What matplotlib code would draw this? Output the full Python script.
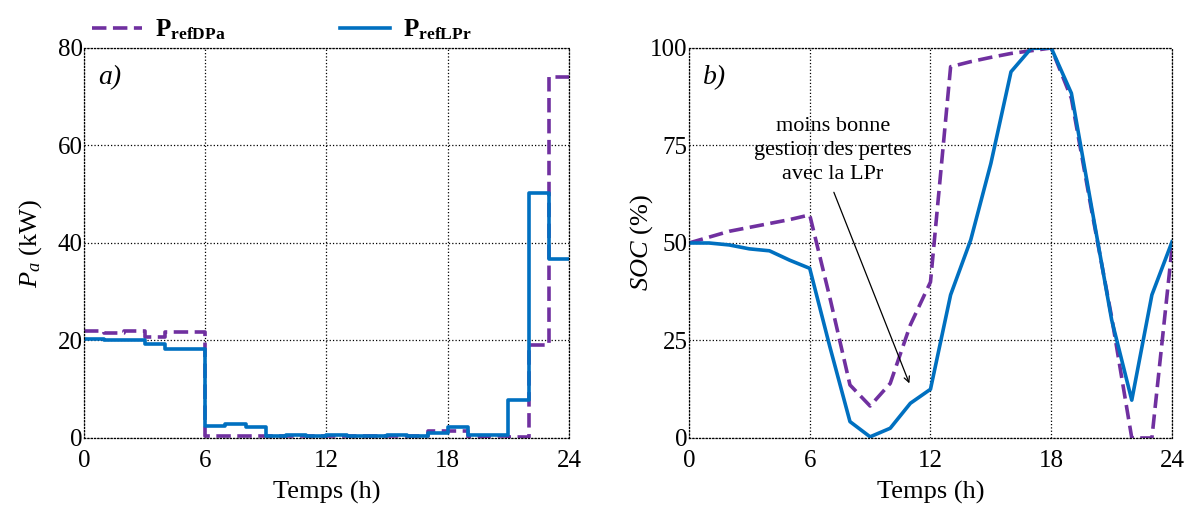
import numpy as np
import matplotlib
matplotlib.use("Agg")
import matplotlib.pyplot as plt

# Police type Times (Liberation Serif) pour tout le texte
plt.rcParams['font.family'] = ['Liberation Serif', 'DejaVu Serif']
plt.rcParams['mathtext.fontset'] = 'custom'
plt.rcParams['mathtext.rm'] = 'Liberation Serif'
plt.rcParams['mathtext.it'] = 'Liberation Serif:italic'
plt.rcParams['mathtext.bf'] = 'Liberation Serif:bold'

# Données
hours = np.arange(25)

# a) puissance de référence par heure (kW), 24 paliers
p_dpa = [22.0, 21.5, 22.0, 20.8, 21.7, 21.7, 0.4, 0.4, 0.4, 0.4, 0.4, 0.4,
         0.4, 0.4, 0.4, 0.4, 0.4, 1.5, 1.5, 0.3, 0.5, 0.2, 19.1, 74.0]
p_lpr = [20.4, 20.1, 20.1, 19.3, 18.3, 18.3, 2.5, 2.9, 2.2, 0.5, 0.7, 0.5,
         0.7, 0.5, 0.5, 0.7, 0.5, 1.0, 2.3, 0.7, 0.7, 7.8, 50.3, 36.7]

# b) état de charge (%), 25 points horaires
soc_dpa = [50, 51.5, 53, 54, 55, 56, 57.2, 36, 13.6, 8.2, 14, 29, 40,
           95.2, 96.5, 97.6, 98.6, 99.3, 100, 87.1, 58.5, 31, 0, 0, 48.7]
soc_lpr = [50, 50, 49.5, 48.5, 48, 45.6, 43.5, 23.4, 4.2, 0.3, 2.5, 8.9, 12.5,
           36.7, 50.8, 70.4, 93.9, 99.9, 100, 88.4, 59.3, 30.3, 9.7, 36.7, 50.3]

x_ticks = [0, 6, 12, 18, 24]
purple = '#7030A0'
blue = '#0070C0'
dash = (4, 1.8)

fig = plt.figure(figsize=(11.99, 5.09), dpi=100)
ax1 = fig.add_axes([0.070, 0.1395, 0.4046, 0.7662])
ax2 = fig.add_axes([0.5746, 0.1395, 0.4029, 0.7662])


def style(ax):
    ax.set_xlim(0, 24)
    ax.set_xticks(x_ticks)
    ax.grid(True, color='black', linestyle=':', linewidth=0.9)
    for s in ax.spines.values():
        s.set_linestyle(':')
        s.set_linewidth(0.9)
    ax.tick_params(length=0, labelsize=18)
    ax.tick_params(axis='x', pad=9)
    ax.tick_params(axis='y', pad=1)
    ax.set_xlabel('Temps (h)', fontsize=19, labelpad=6)


# a) paliers
l1, = ax1.plot(hours, p_dpa + [p_dpa[-1]], drawstyle='steps-post', color=purple,
               lw=2.6, dashes=dash)
l2, = ax1.plot(hours, p_lpr + [p_lpr[-1]], drawstyle='steps-post', color=blue, lw=2.6)
style(ax1)
ax1.set_ylim(0, 80)
ax1.set_yticks([0, 20, 40, 60, 80])
ax1.set_ylabel(r'$P_a$ (kW)', fontsize=19, labelpad=9.5)
ax1.text(0.03, 0.955, 'a)', transform=ax1.transAxes, fontsize=20,
         style='italic', va='top')

# b) SOC
ax2.plot(hours, soc_dpa, color=purple, lw=2.6, dashes=dash)
ax2.plot(hours, soc_lpr, color=blue, lw=2.6)
style(ax2)
ax2.set_ylim(0, 100)
ax2.set_yticks([0, 25, 50, 75, 100])
ax2.set_ylabel(r'$SOC$ (%)', fontsize=19, labelpad=-3.5)
ax2.text(0.03, 0.955, 'b)', transform=ax2.transAxes, fontsize=20,
         style='italic', va='top')
ax2.text(7.15, 73.8, 'moins bonne\ngestion des pertes\navec la LPr', fontsize=16,
         ha='center', va='center', linespacing=1.35)
ax2.annotate('', xy=(10.95, 14), xytext=(7.2, 63),
             arrowprops=dict(arrowstyle='->', color='black', lw=0.9,
                             shrinkA=0, shrinkB=0))

# légende en haut
fig.legend([l1, l2], [r'$\mathbf{P_{refDPa}}$', r'$\mathbf{P_{refLPr}}$'],
           loc='upper left', bbox_to_anchor=(0.058, 1.01), ncol=2, frameon=False,
           fontsize=18, handlelength=2.0, columnspacing=4.6, handletextpad=0.5)

fig.savefig('out.png', dpi=100)
